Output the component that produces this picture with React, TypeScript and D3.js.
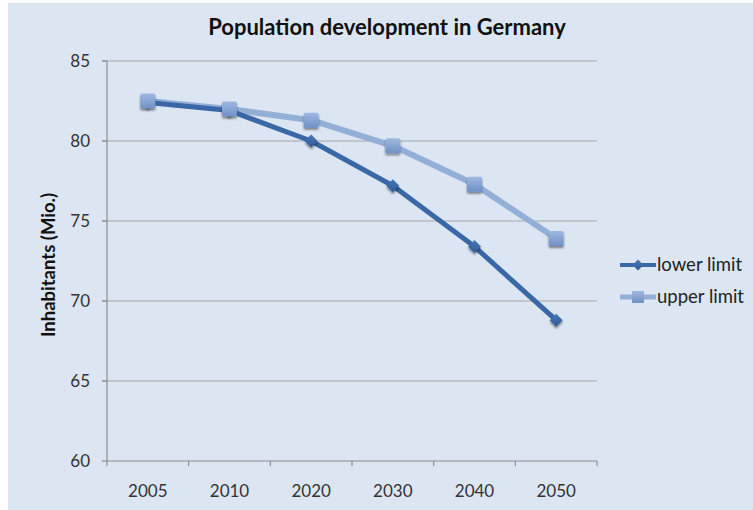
import React from "react";
import * as d3 from "d3";

const categories = ["2005", "2010", "2020", "2030", "2040", "2050"];
const lowerLimit = [82.4, 81.9, 80.0, 77.2, 73.4, 68.8];
const upperLimit = [82.5, 82.0, 81.3, 79.7, 77.3, 73.9];
const yTicks = [60, 65, 70, 75, 80, 85];
const seriesNames = ["lower limit", "upper limit"];

const W = 753;
const H = 510;
const FONT = "Lato, 'Open Sans', sans-serif";

export default function App() {
  const x = d3.scaleBand<string>().domain(categories).range([107, 597]);
  const y = d3.scaleLinear().domain([60, 85]).range([461, 61]);
  const cx = (c: string) => (x(c) as number) + x.bandwidth() / 2;

  const line = d3
    .line<[string, number]>()
    .x((d) => cx(d[0]))
    .y((d) => y(d[1]));

  const lowerPts: [string, number][] = categories.map((c, i) => [c, lowerLimit[i]]);
  const upperPts: [string, number][] = categories.map((c, i) => [c, upperLimit[i]]);

  const lowerColor = "#3a68a6";
  const upperColor = "#93afd8";

  const diamond = (px: number, py: number, r: number) =>
    `M${px},${py - r}L${px + r},${py}L${px},${py + r}L${px - r},${py}Z`;

  return (
    <svg width={W} height={H} style={{ position: "absolute", left: 0, top: 0 }}>
      <defs>
        <linearGradient id="sqGrad" x1="0" y1="0" x2="0" y2="1">
          <stop offset="0%" stopColor="#9fb8e0" />
          <stop offset="100%" stopColor="#6f90c6" />
        </linearGradient>
        <linearGradient id="dmGrad" x1="0" y1="0" x2="0" y2="1">
          <stop offset="0%" stopColor="#4a78b8" />
          <stop offset="100%" stopColor="#2d5a96" />
        </linearGradient>
        <filter id="shadow" x="-50%" y="-50%" width="200%" height="200%">
          <feGaussianBlur in="SourceAlpha" stdDeviation="1.2" />
          <feOffset dx="0" dy="1.5" result="b" />
          <feComponentTransfer>
            <feFuncA type="linear" slope="0.45" />
          </feComponentTransfer>
          <feMerge>
            <feMergeNode />
            <feMergeNode in="SourceGraphic" />
          </feMerge>
        </filter>
      </defs>
      <rect x={0} y={0} width={W} height={H} fill="#ffffff" />
      <rect x={8} y={3} width={W - 8} height={H - 3} fill="#dce6f2" />

      <text
        x={387}
        y={35}
        textAnchor="middle"
        fontFamily={FONT}
        fontWeight="bold"
        fontSize={22}
        fill="#111"
      >
        Population development in Germany
      </text>

      {/* gridlines */}
      {yTicks.filter((t) => t !== 60).map((t) => (
        <line key={t} x1={102} x2={597} y1={y(t)} y2={y(t)} stroke="#a6a6a6" strokeWidth={1.2} />
      ))}
      {/* y axis */}
      <line x1={107} x2={107} y1={y(85)} y2={y(60)} stroke="#8c8c8c" strokeWidth={1.2} />
      {yTicks.map((t) => (
        <line key={"yt" + t} x1={102} x2={107} y1={y(t)} y2={y(t)} stroke="#8c8c8c" strokeWidth={1.2} />
      ))}
      {yTicks.map((t) => (
        <text
          key={"yl" + t}
          x={90}
          y={y(t) + 6}
          textAnchor="end"
          fontFamily={FONT}
          fontSize={17}
          fill="#333"
        >
          {t}
        </text>
      ))}
      {/* x axis */}
      <line x1={107} x2={597} y1={y(60)} y2={y(60)} stroke="#8c8c8c" strokeWidth={1.2} />
      {[...categories.map((c) => x(c) as number), 597].map((v, i) => (
        <line key={"xt" + i} x1={v} x2={v} y1={y(60)} y2={y(60) + 5} stroke="#8c8c8c" strokeWidth={1.2} />
      ))}
      {categories.map((c) => (
        <text
          key={"xl" + c}
          x={cx(c)}
          y={497}
          textAnchor="middle"
          fontFamily={FONT}
          fontSize={17}
          fill="#333"
        >
          {c}
        </text>
      ))}

      <text
        transform={`translate(55,${265}) rotate(-90)`}
        textAnchor="middle"
        fontFamily={FONT}
        fontWeight="bold"
        fontSize={18.5}
        fill="#111"
      >
        Inhabitants (Mio.)
      </text>

      {/* lines */}
      <path d={line(upperPts) || ""} fill="none" stroke={upperColor} strokeWidth={6} strokeLinejoin="round" />
      <path d={line(lowerPts) || ""} fill="none" stroke={lowerColor} strokeWidth={5} strokeLinejoin="round" />

      {/* markers: lower first, then upper on top */}
      {lowerPts.map(([c, v]) => (
        <path key={"ld" + c} d={diamond(cx(c), y(v), 6.5)} fill="url(#dmGrad)" filter="url(#shadow)" />
      ))}
      {upperPts.map(([c, v]) => (
        <rect
          key={"us" + c}
          x={cx(c) - 7.5}
          y={y(v) - 7.5}
          width={15}
          height={15}
          rx={1.5}
          fill="url(#sqGrad)"
          filter="url(#shadow)"
        />
      ))}

      {/* legend */}
      <line x1={620} x2={656} y1={265} y2={265} stroke={lowerColor} strokeWidth={4} />
      <path d={diamond(638, 265, 5.5)} fill="url(#dmGrad)" />
      <text x={657} y={271} fontFamily={FONT} fontSize={18.5} fill="#222">
        {seriesNames[0]}
      </text>
      <line x1={620} x2={656} y1={297} y2={297} stroke={upperColor} strokeWidth={5} />
      <rect x={632} y={291} width={12} height={12} fill="url(#sqGrad)" />
      <text x={657} y={303} fontFamily={FONT} fontSize={18.5} fill="#222">
        {seriesNames[1]}
      </text>
    </svg>
  );
}
